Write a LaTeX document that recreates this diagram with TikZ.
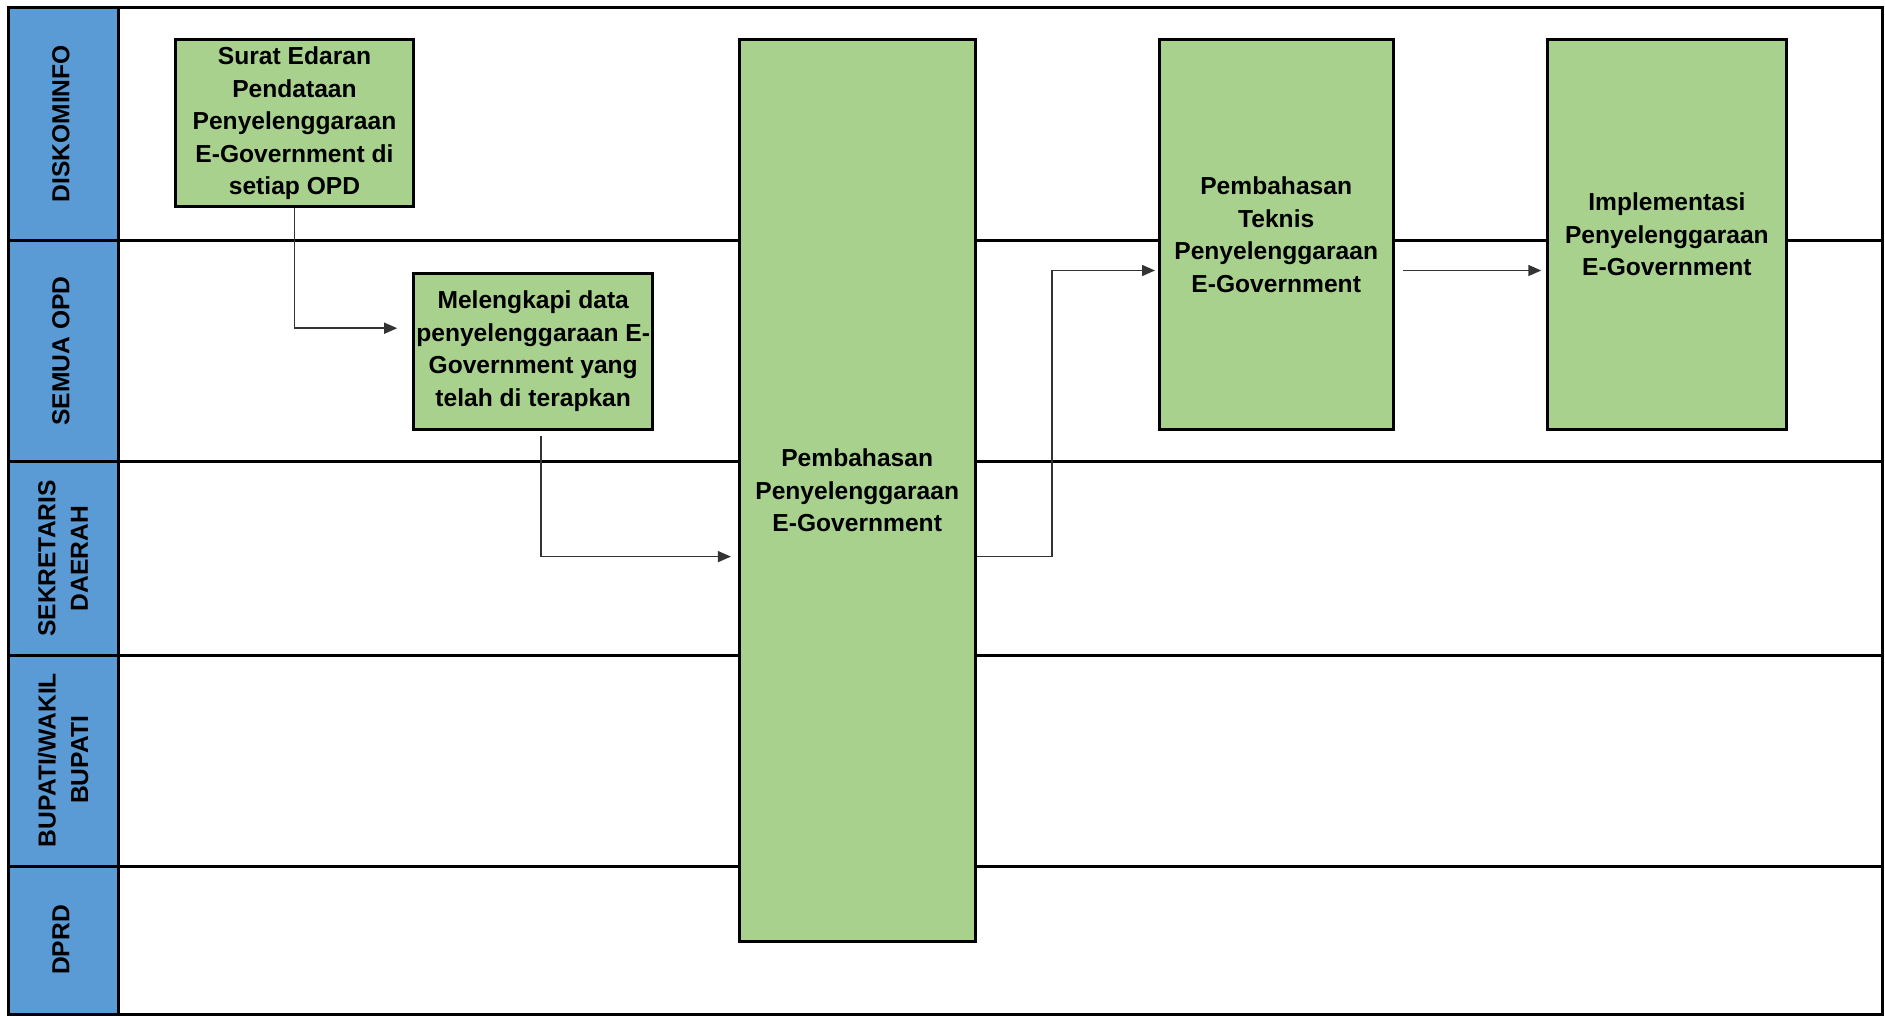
\documentclass[tikz,border=0pt]{standalone}
\usepackage{fontspec}
\setmainfont{Liberation Sans}
\usetikzlibrary{arrows.meta}
\definecolor{hdrblue}{HTML}{5B9BD5}
\definecolor{boxgreen}{HTML}{A9D18E}
\begin{document}
\begin{tikzpicture}[x=1pt,y=-1pt,
  txt/.style={font=\fontsize{24.6}{32.5}\selectfont\bfseries, align=center},
  stepbox/.style={txt, draw=black, line width=3pt, fill=boxgreen, inner sep=0pt},
  lanelabel/.style={txt, rotate=90},
  lanerule/.style={line width=3pt, draw=black},
  conn/.style={line width=1.5pt, draw=black!80, -{Triangle[length=13pt,width=11pt]}}
]
\useasboundingbox (0,0) rectangle (1885,1015);
% header column
\fill[hdrblue] (8,7) rectangle (118,1014);
% lane rules
\foreach \yy in {240.4,461.6,655.2,866.8}
  \draw[lanerule] (8,\yy) -- (1882,\yy);
\draw[lanerule] (118,7) -- (118,1014);
\draw[lanerule] (8,7) rectangle (1882,1014);
% lane labels
\node[lanelabel] (l1) at (61,123.8) {DISKOMINFO};
\node[lanelabel] (l2) at (61,351) {SEMUA OPD};
\node[lanelabel] (l3) at (63,558.4) {SEKRETARIS\\DAERAH};
\node[lanelabel] (l4) at (63,760) {BUPATI/WAKIL\\BUPATI};
\node[lanelabel] (l5) at (61,940) {DPRD};
% boxes
\node[stepbox, minimum width=238pt, minimum height=167pt] (b1) at (294.5,123.3)
  {Surat Edaran\\Pendataan\\Penyelenggaraan\\E-Government di\\setiap OPD};
\node[stepbox, minimum width=239pt, minimum height=156pt] (b2) at (533.2,351)
  {Melengkapi data\\penyelenggaraan E-\\Government yang\\telah di terapkan};
\node[stepbox, minimum width=235.6pt, minimum height=901.6pt] (big) at (857.2,490.5)
  {Pembahasan\\Penyelenggaraan\\E-Government};
\node[stepbox, minimum width=234.4pt, minimum height=389.5pt] (tek) at (1276.2,234.5)
  {Pembahasan\\Teknis\\Penyelenggaraan\\E-Government};
\node[stepbox, minimum width=239.3pt, minimum height=389.5pt] (imp) at (1666.9,234.5)
  {Implementasi\\Penyelenggaraan\\E-Government};
% helper coordinates
\coordinate (m1) at (0,328.2);
\coordinate (m2) at (0,556.6);
\coordinate (m3) at (0,270.5);
\coordinate (j2) at (541,0);
\coordinate (j3) at (1052,0);
% connectors
\draw[conn, shorten >=15pt] (b1.south) |- (b2.west |- m1);
\draw[conn, shorten >=7pt] (j2 |- b2.south) ++(0,5) -- (j2 |- m2) -- (big.west |- m2);
\draw[conn, shorten >=2.5pt] (big.east |- m2) -- (j3 |- m2) -- (j3 |- m3) -- (tek.west |- m3);
\draw[conn, shorten <=8pt, shorten >=4.5pt] (tek.east |- m3) -- (imp.west |- m3);
\end{tikzpicture}
\end{document}
